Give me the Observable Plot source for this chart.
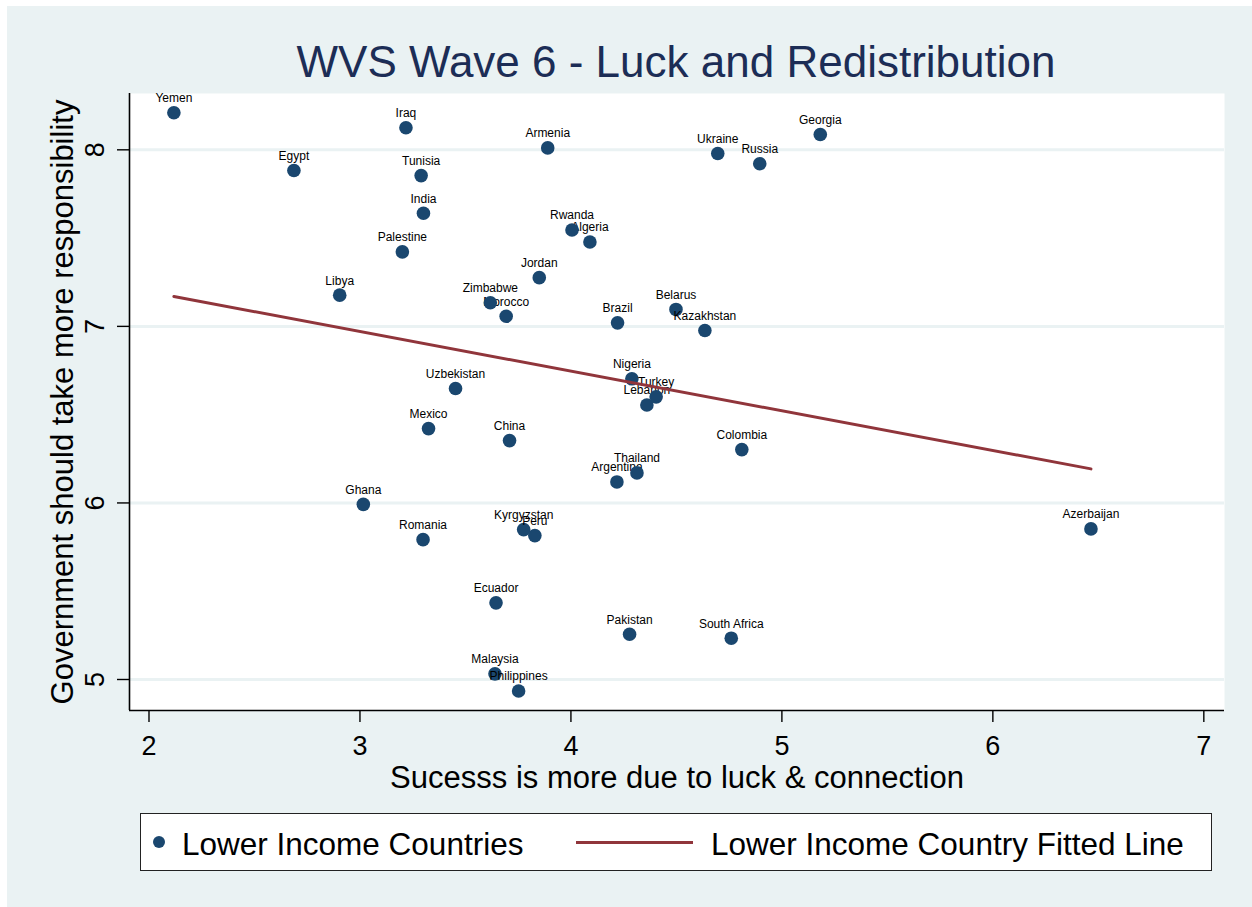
<!DOCTYPE html>
<html>
<head>
<meta charset="utf-8">
<script src="https://cdn.jsdelivr.net/npm/d3@7"></script>
<script src="https://cdn.jsdelivr.net/npm/@observablehq/plot@0.6"></script>
<style>
  html, body { margin: 0; padding: 0; background: #ffffff; }
  body { width: 1252px; height: 907px; position: relative; overflow: hidden;
         font-family: "Liberation Sans", Arial, Helvetica, sans-serif; }
  #panel { position: absolute; left: 7px; top: 6px; right: 0; bottom: 0; background: #eaf2f3; }
  #title { position: absolute; left: 676px; top: 40px; transform: translateX(-50%);
           white-space: nowrap; font-size: 44px; line-height: 44px; color: #1c2d56; }
  #chart { position: absolute; left: 0; top: 80px; }
  #legend { position: absolute; left: 140px; top: 813px; width: 1072px; height: 58px;
            box-sizing: border-box; background: #ffffff; border: 1.6px solid #222; }
  .lg { position: absolute; white-space: nowrap; font-size: 31.5px; line-height: 31.5px; color: #000; }
  #lgdot { position: absolute; left: 12px; top: 22px; width: 12px; height: 12px; border-radius: 50%; background: #1a476f; }
  #lgline { position: absolute; left: 435px; top: 27px; width: 117px; height: 3px; background: #90353b; }
</style>
</head>
<body>
<div id="panel"></div>
<div id="title">WVS Wave 6 - Luck and Redistribution</div>
<div id="chart"></div>
<div id="legend">
  <div id="lgdot"></div>
  <div class="lg" id="lgt1" style="left:41px; top:15px;">Lower Income Countries</div>
  <div id="lgline"></div>
  <div class="lg" id="lgt2" style="left:570px; top:15px;">Lower Income Country Fitted Line</div>
</div>
<script>
// ---- data ----
const countries = ["Algeria","Argentina","Armenia","Azerbaijan","Belarus","Brazil","China","Colombia",
  "Ecuador","Egypt","Georgia","Ghana","India","Iraq","Jordan","Kazakhstan","Kyrgyzstan","Lebanon",
  "Libya","Malaysia","Mexico","Morocco","Nigeria","Pakistan","Palestine","Peru","Philippines",
  "Romania","Russia","Rwanda","South Africa","Thailand","Tunisia","Turkey","Ukraine","Uzbekistan",
  "Yemen","Zimbabwe"];
const luck = [4.090,4.218,3.890,6.465,4.498,4.221,3.709,4.810,
  3.645,2.687,5.182,3.016,3.301,3.218,3.850,4.635,3.776,4.360,
  2.904,3.640,3.325,3.693,4.289,4.278,3.201,3.829,3.752,
  3.299,4.895,4.005,4.760,4.313,3.290,4.404,4.696,3.453,
  2.118,3.618];
const govResp = [7.478,6.119,8.011,5.853,7.096,7.020,6.353,6.302,
  5.434,7.883,8.087,5.992,7.641,8.125,7.276,6.977,5.849,6.555,
  7.177,5.032,6.421,7.057,6.703,5.256,7.422,5.815,4.935,
  5.792,7.921,7.546,5.234,6.170,7.854,6.601,7.979,6.648,
  8.210,7.134];
const fitX = [2.118, 6.465];
const fitY = [7.169, 6.193];
const xTicks = [2, 3, 4, 5, 6, 7];
const yTicks = [5, 6, 7, 8];
const xTitle = "Sucesss is more due to luck & connection";
const yTitle = "Government should take more responsibility";

// ---- build ----
const points = countries.map((c, i) => ({country: c, x: luck[i], y: govResp[i]}));
const fit = fitX.map((x, i) => ({x, y: fitY[i]}));
const xDomain = [1.9076, 7.098];
const yDomain = [4.8244, 8.319];
const font = '"Liberation Sans", Arial, Helvetica, sans-serif';
const navy = "#1a476f";
const maroon = "#90353b";

const pointMarks = points.flatMap(d => [
  Plot.dot([d], {x: "x", y: "y", r: 6.8, fill: navy, stroke: "none"}),
  Plot.text([d], {x: "x", y: "y", text: "country", dy: -10.6, lineAnchor: "bottom",
                  fontSize: 12, fill: "#000", textAnchor: "middle"})
]);

const chart = Plot.plot({
  width: 1252,
  height: 720,
  marginLeft: 129,
  marginRight: 28,
  marginTop: 13,
  marginBottom: 90,
  x: {domain: xDomain},
  y: {domain: yDomain},
  style: {fontFamily: font, background: "transparent", overflow: "visible", color: "#000"},
  marks: [
    Plot.frame({fill: "#ffffff", stroke: null}),
    Plot.gridY(yTicks, {stroke: "#eaf2f3", strokeOpacity: 1, strokeWidth: 3}),
    ...pointMarks,
    Plot.line(fit, {x: "x", y: "y", stroke: maroon, strokeWidth: 3}),
    Plot.ruleX([xDomain[0]], {stroke: "#000", strokeWidth: 1.6}),
    Plot.ruleY([yDomain[0]], {stroke: "#000", strokeWidth: 1.6}),
    Plot.axisX({ticks: xTicks, tickSize: 12, tickPadding: 13, fontSize: 27, label: null,
                tickFormat: d => String(d), stroke: "#000", strokeWidth: 1.4}),
    Plot.axisY({ticks: yTicks, tickSize: 12, tickFormat: () => "", label: null,
                stroke: "#000", strokeWidth: 1.4}),
    Plot.text(yTicks, {frameAnchor: "left", y: d => d, text: d => String(d), rotate: -90,
                       dx: -26, lineAnchor: "bottom", textAnchor: "middle", fontSize: 27, fill: "#000"}),
    Plot.text([xTitle], {frameAnchor: "bottom", text: d => d, dy: 77, lineAnchor: "bottom",
                         textAnchor: "middle", fontSize: 31, fill: "#000"}),
    Plot.text([yTitle], {frameAnchor: "left", text: d => d, rotate: -90, dx: -57, lineAnchor: "bottom",
                         textAnchor: "middle", fontSize: 31, fill: "#000"})
  ]
});
document.getElementById("chart").appendChild(chart);
</script>
</body>
</html>
